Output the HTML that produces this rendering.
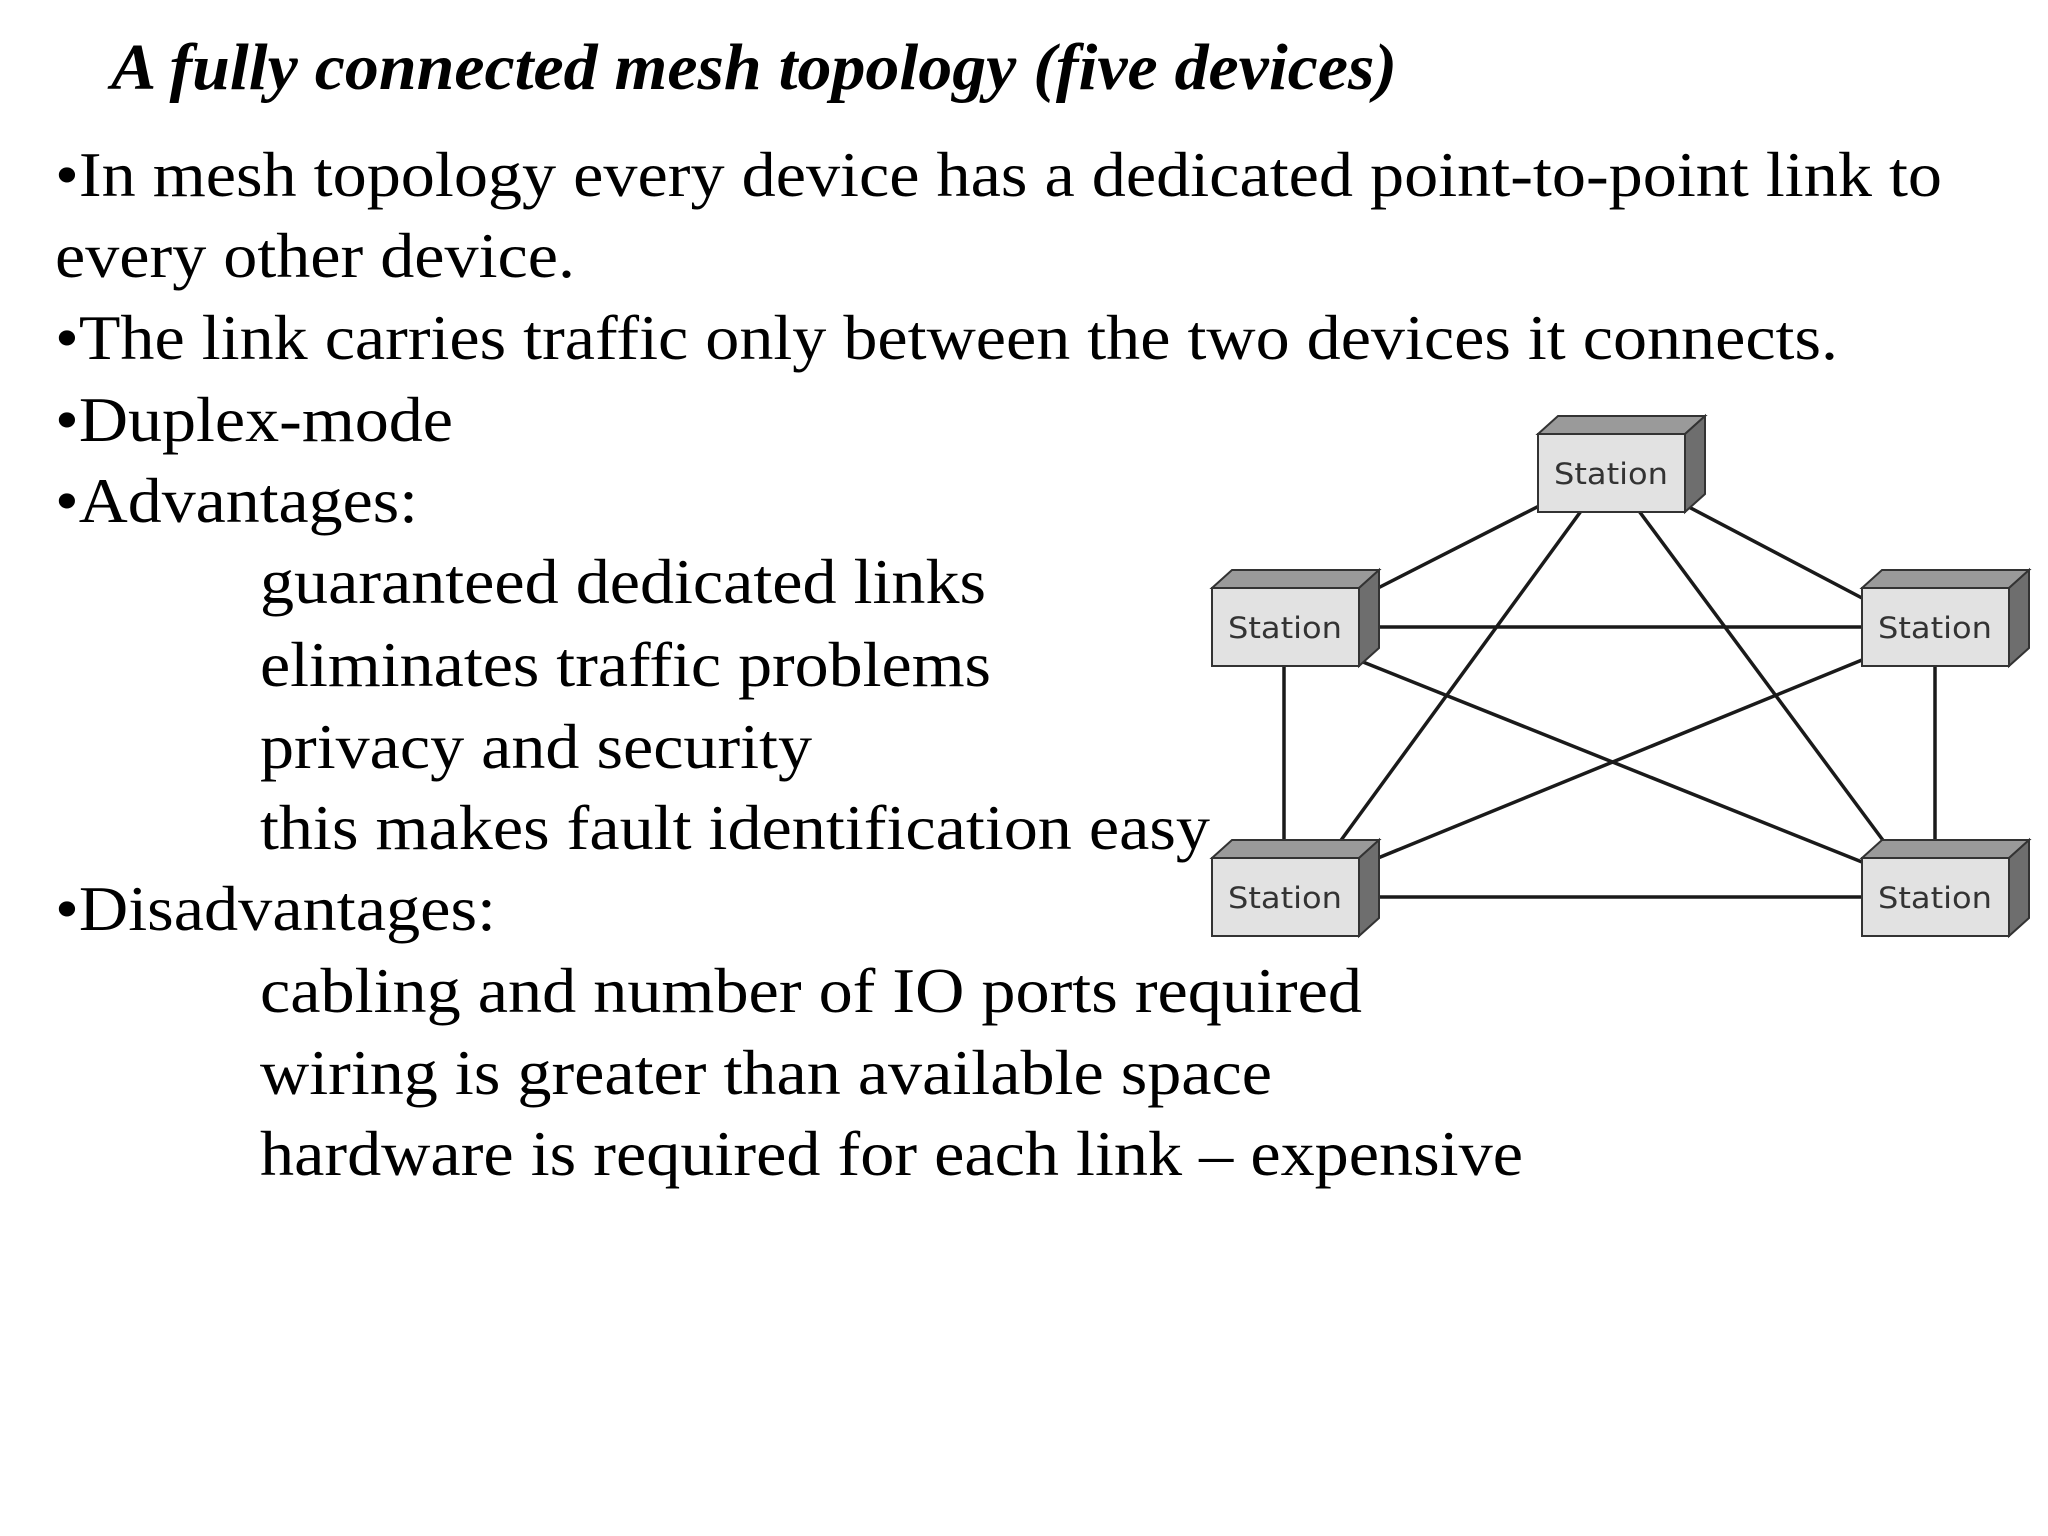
<!DOCTYPE html>
<html><head><meta charset="utf-8"><style>html,body{margin:0;padding:0;background:#fff}svg{display:block}</style></head>
<body>
<svg width="2048" height="1536" viewBox="0 0 2048 1536" xmlns="http://www.w3.org/2000/svg">
<rect width="2048" height="1536" fill="#fff"/>
<g font-family="Liberation Serif, serif" fill="#000">
<text x="111" y="89" font-size="66" font-style="italic" font-weight="bold" textLength="1286" lengthAdjust="spacingAndGlyphs">A fully connected mesh topology (five devices)</text>
<g font-size="64">
<text x="55" y="196" textLength="1887" lengthAdjust="spacingAndGlyphs">•In mesh topology every device has a dedicated point-to-point link to</text>
<text x="55" y="277" textLength="520" lengthAdjust="spacingAndGlyphs">every other device.</text>
<text x="55" y="359" textLength="1783" lengthAdjust="spacingAndGlyphs">•The link carries traffic only between the two devices it connects.</text>
<text x="55" y="441" textLength="398" lengthAdjust="spacingAndGlyphs">•Duplex-mode</text>
<text x="55" y="522" textLength="363" lengthAdjust="spacingAndGlyphs">•Advantages:</text>
<text x="260" y="603" textLength="726" lengthAdjust="spacingAndGlyphs">guaranteed dedicated links</text>
<text x="260" y="686" textLength="731" lengthAdjust="spacingAndGlyphs">eliminates traffic problems</text>
<text x="260" y="768" textLength="552" lengthAdjust="spacingAndGlyphs">privacy and security</text>
<text x="260" y="849" textLength="950" lengthAdjust="spacingAndGlyphs">this makes fault identification easy</text>
<text x="55" y="930" textLength="441" lengthAdjust="spacingAndGlyphs">•Disadvantages:</text>
<text x="260" y="1012" textLength="1102" lengthAdjust="spacingAndGlyphs">cabling and number of IO ports required</text>
<text x="260" y="1094" textLength="1012" lengthAdjust="spacingAndGlyphs">wiring is greater than available space</text>
<text x="260" y="1175" textLength="1263" lengthAdjust="spacingAndGlyphs">hardware is required for each link – expensive</text>
</g></g>
<g stroke="#1a1a1a" stroke-width="3.5" fill="none">
<line x1="1541" y1="505" x2="1378" y2="588"/>
<line x1="1584" y1="507" x2="1339" y2="843"/>
<line x1="1636" y1="507" x2="1885" y2="843"/>
<line x1="1685" y1="505" x2="1862" y2="598"/>
<line x1="1378" y1="627" x2="1862" y2="627"/>
<line x1="1358" y1="660" x2="1862" y2="862"/>
<line x1="1284" y1="666" x2="1284" y2="843"/>
<line x1="1862" y1="660" x2="1378" y2="858"/>
<line x1="1935" y1="666" x2="1935" y2="843"/>
<line x1="1378" y1="897" x2="1862" y2="897"/>
</g>
<defs>
<g id="st">
<polygon points="0,0 20,-18 167,-18 147,0" fill="#9a9a9a" stroke="#333" stroke-width="2"/>
<polygon points="147,0 167,-18 167,60 147,78" fill="#6e6e6e" stroke="#333" stroke-width="2"/>
<rect x="0" y="0" width="147" height="78" fill="#e2e2e2" stroke="#333" stroke-width="2"/>
<text x="73" y="50" font-family="DejaVu Sans, Liberation Sans, sans-serif" font-size="29" fill="#333" text-anchor="middle" textLength="114" lengthAdjust="spacingAndGlyphs">Station</text>
</g>
</defs>
<use href="#st" x="1538" y="434"/>
<use href="#st" x="1212" y="588"/>
<use href="#st" x="1862" y="588"/>
<use href="#st" x="1212" y="858"/>
<use href="#st" x="1862" y="858"/>
</svg>
</body></html>
